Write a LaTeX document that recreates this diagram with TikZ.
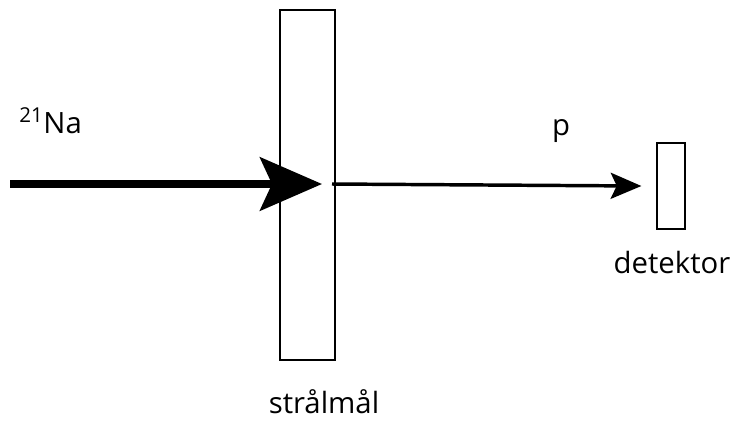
\documentclass[tikz,border=0pt]{standalone}
\usepackage{fontspec}
\setmainfont{Open Sans}
\usetikzlibrary{arrows.meta,positioning}

\tikzset{
  plate/.style={draw, line width=1.4pt, inner sep=0pt},
  lbl/.style={font=\fontsize{22}{26}\selectfont, inner sep=0pt, anchor=base}
}

\begin{document}
\begin{tikzpicture}[x=0.75pt, y=-0.75pt]
  \useasboundingbox (0,0) rectangle (736,426);
  % target and detector
  \node[plate, minimum width=41.25pt, minimum height=262.5pt] (mal) at (307.5,185) {};
  \node[plate, minimum width=21pt, minimum height=64.5pt] (det) at (671,186) {};
  % beam ends
  \coordinate (inn) at (10,184);
  \coordinate (hit) at (322,184);
  \coordinate (ut) at (332,184);
  % incoming beam
  \draw[line width=5.5pt, -{Stealth[length=46.5pt, width=40pt, inset=9pt]}] (inn) -- (hit);
  % outgoing proton
  \draw[line width=2.6pt, -{Stealth[length=23pt, width=19.5pt, inset=4.5pt]}] (ut) -- ([xshift=-11pt]det.west);
  % labels
  \node[lbl, anchor=base west] (na) at (19,133) {\textsuperscript{21}Na};
  \node[lbl] (p) at (561,135) {p};
  \node[lbl] (detl) at (672,273) {detektor};
  \node[lbl] (mall) at (324,413) {strålmål};
\end{tikzpicture}
\end{document}
